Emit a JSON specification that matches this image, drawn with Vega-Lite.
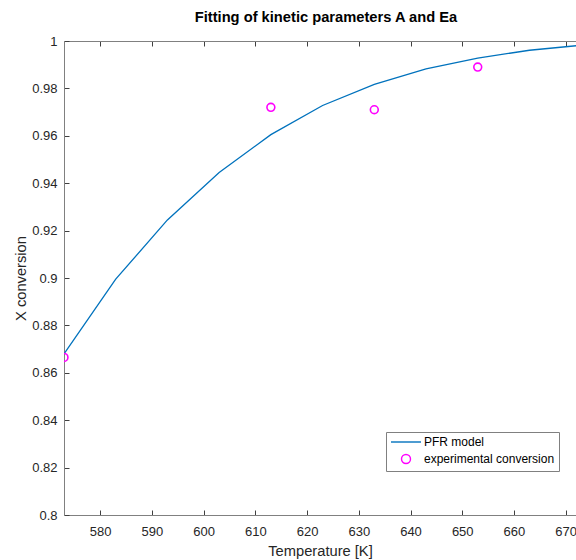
{
  "$schema": "https://vega.github.io/schema/vega-lite/v6.json",
  "autosize": {"type": "none"},
  "padding": {"left": 64, "top": 41, "right": 0, "bottom": 45},
  "width": 512,
  "height": 474,
  "background": "white",
  "config": {
    "view": {"stroke": null},
    "font": "Liberation Sans",
    "axis": {
      "domainColor": "#808080",
      "tickColor": "#404040",
      "labelColor": "#262626",
      "titleColor": "#262626",
      "labelFont": "Liberation Sans",
      "titleFont": "Liberation Sans",
      "labelFontSize": 13,
      "titleFontSize": 14.7,
      "titleFontWeight": "normal",
      "grid": false,
      "tickSize": -5
    }
  },
  "title": {
    "text": "Fitting of kinetic parameters A and Ea",
    "font": "Liberation Sans",
    "fontSize": 14.7,
    "fontWeight": "bold",
    "color": "#000000",
    "anchor": "middle",
    "dx": 6,
    "offset": 10
  },
  "datasets": {
    "model": [
      {"T": 573, "X": 0.868, "series": "PFR model"},
      {"T": 583, "X": 0.8995, "series": "PFR model"},
      {"T": 593, "X": 0.9245, "series": "PFR model"},
      {"T": 603, "X": 0.9445, "series": "PFR model"},
      {"T": 613, "X": 0.9605, "series": "PFR model"},
      {"T": 623, "X": 0.9728, "series": "PFR model"},
      {"T": 633, "X": 0.9817, "series": "PFR model"},
      {"T": 643, "X": 0.9882, "series": "PFR model"},
      {"T": 653, "X": 0.9928, "series": "PFR model"},
      {"T": 663, "X": 0.9961, "series": "PFR model"},
      {"T": 673, "X": 0.9982, "series": "PFR model"}
    ],
    "exp": [
      {"T": 573, "X": 0.8665, "series": "experimental conversion"},
      {"T": 613, "X": 0.972, "series": "experimental conversion"},
      {"T": 633, "X": 0.971, "series": "experimental conversion"},
      {"T": 653, "X": 0.989, "series": "experimental conversion"}
    ]
  },
  "layer": [
    {
      "data": {"name": "model"},
      "mark": {"type": "line", "strokeWidth": 1.3, "clip": true},
      "encoding": {
        "x": {
          "field": "T", "type": "quantitative",
          "scale": {"domain": [573, 672], "nice": false, "zero": false},
          "axis": {"title": "Temperature [K]", "values": [580, 590, 600, 610, 620, 630, 640, 650, 660, 670], "labelPadding": 15, "titlePadding": 5}
        },
        "y": {
          "field": "X", "type": "quantitative",
          "scale": {"domain": [0.8, 1], "nice": false, "zero": false},
          "axis": {"title": "X conversion", "values": [0.8, 0.82, 0.84, 0.86, 0.88, 0.9, 0.92, 0.94, 0.96, 0.98, 1], "format": "~g", "labelPadding": 12, "titlePadding": 3}
        },
        "color": {
          "field": "series", "type": "nominal",
          "scale": {"domain": ["PFR model", "experimental conversion"], "range": ["#0072BD", "#FF00FF"]},
          "legend": {
            "title": null, "orient": "none", "legendX": 322, "legendY": 391,
            "strokeColor": "#808080", "fillColor": "white", "padding": 4,
            "labelFontSize": 12, "labelColor": "#000000", "labelFont": "Liberation Sans",
            "symbolStrokeWidth": 1.4, "symbolOpacity": 1, "rowPadding": 3, "labelOffset": 22
          }
        }
      }
    },
    {
      "data": {"name": "exp"},
      "mark": {"type": "point", "shape": "circle", "size": 62, "filled": false, "strokeWidth": 1.6, "opacity": 1, "clip": true},
      "encoding": {
        "x": {
          "field": "T", "type": "quantitative",
          "axis": {"orient": "top", "title": null, "labels": false, "values": [580, 590, 600, 610, 620, 630, 640, 650, 660, 670]}
        },
        "y": {"field": "X", "type": "quantitative"},
        "color": {"field": "series", "type": "nominal"}
      }
    },
    {
      "data": {"name": "exp"},
      "transform": [{"filter": "datum.T < 0"}],
      "mark": {"type": "point", "filled": false, "strokeWidth": 1.6, "opacity": 1},
      "encoding": {
        "x": {"field": "T", "type": "quantitative", "axis": null},
        "y": {"field": "X", "type": "quantitative"},
        "color": {"field": "series", "type": "nominal"},
        "shape": {
          "field": "series", "type": "nominal",
          "scale": {"domain": ["PFR model", "experimental conversion"], "range": ["M-1,0H5", "M2.9,0A0.9,0.9 0 1,1 1.1,0A0.9,0.9 0 1,1 2.9,0Z"]}
        },
        "size": {
          "field": "series", "type": "nominal",
          "scale": {"domain": ["PFR model", "experimental conversion"], "range": [100, 100]}
        }
      }
    }
  ],
  "resolve": {"axis": {"x": "independent"}}
}
